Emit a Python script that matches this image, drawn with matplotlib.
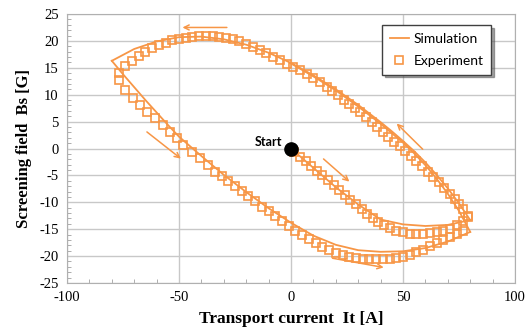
import matplotlib
matplotlib.use("Agg")
import matplotlib.pyplot as plt
from matplotlib.ticker import MultipleLocator

plt.rcParams['axes.unicode_minus'] = False

# --- simulation (lines) ---
sim_init_x = [0, 10, 20, 30, 40, 50, 60, 70, 80]
sim_init_y = [0, -3.6, -7.2, -10.4, -13.2, -14.1, -14.4, -14.2, -13.3]

sim_up1_x = [80, 75, 70, 65, 60, 55, 50, 45, 40, 30, 20, 10, 0, -10, -20, -30, -40, -50, -60, -70, -80]
sim_up1_y = [-13.3, -10.2, -7.4, -4.9, -2.6, -0.5, 1.4, 3.2, 4.9, 8.1, 11.0, 13.6, 15.9, 17.8, 19.3, 20.3, 20.8, 20.7, 19.9, 18.5, 16.3]

sim_low_x = [-80, -75, -70, -65, -60, -55, -50, -40, -30, -20, -10, 0, 10, 20, 30, 40, 50, 60, 70, 80]
sim_low_y = [16.3, 13.8, 11.4, 9.0, 6.7, 4.4, 2.2, -1.4, -4.9, -8.1, -11.1, -13.8, -16.2, -17.9, -18.9, -19.2, -19.1, -18.5, -17.3, -15.5]

sim_up2_x = [80, 75, 70, 65, 60, 55, 50, 40, 30, 20, 10, 0]
sim_up2_y = [-15.5, -11.6, -8.4, -5.6, -3.1, -0.9, 1.1, 4.6, 7.8, 10.8, 13.4, 15.8]

# --- experiment (squares) ---
exp_init_x = [1.5, 4, 6.5, 9, 11.5, 14, 16.5, 19, 21.5, 24, 26.5, 29, 31.5, 34, 36.5, 39, 41.5, 44,
              47, 50, 53, 56, 59, 62, 65, 68, 71, 74, 77, 79]
exp_init_y = [-0.6, -1.5, -2.4, -3.2, -4.1, -5.0, -5.9, -6.8, -7.7, -8.6, -9.5, -10.4, -11.3, -12.1, -12.9, -13.6, -14.2, -14.8,
              -15.3, -15.6, -15.8, -15.8, -15.8, -15.7, -15.6, -15.3, -14.9, -14.3, -13.5, -12.8]

exp_up_x = [79, 77, 75, 73, 71, 68.5, 66, 63.5, 61, 58.5, 56, 53.5, 51, 48.5, 46, 43.5, 41, 38.5, 36, 33.5,
            31, 28.5, 26, 23.5, 21, 18.5, 16, 13, 10, 7, 4, 1, -2, -5, -8, -11, -14, -17, -20,
            -23, -26, -29, -32, -35, -38, -41, -44, -47, -50, -53, -56, -59, -62, -65, -68, -71, -74, -77]
exp_up_y = [-12.5, -11.3, -10.3, -9.3, -8.4, -7.3, -6.3, -5.3, -4.3, -3.3, -2.4, -1.4, -0.5, 0.4, 1.3, 2.2, 3.1, 4.0, 4.9, 5.8,
            6.7, 7.5, 8.3, 9.1, 9.9, 10.7, 11.4, 12.3, 13.1, 13.9, 14.6, 15.2, 15.8, 16.5, 17.1, 17.7, 18.3, 18.9, 19.4,
            20.0, 20.3, 20.6, 20.8, 20.9, 20.9, 20.9, 20.8, 20.6, 20.4, 20.1, 19.7, 19.2, 18.6, 18.0, 17.2, 16.3, 15.3, 14.0]

exp_low_x = [-77, -74.2, -70.6, -67.5, -64.4, -60.9, -57.3, -54, -51, -48.2, -44.3, -40.7, -37, -34, -31, -28, -25,
             -22, -19, -16, -13, -10, -7, -4, -1, 2, 5, 8, 11, 14, 17, 20, 23, 26, 29, 32, 35, 38, 41,
             44, 47, 50, 53, 56, 59, 62, 65, 68, 71, 74, 77]
exp_low_y = [12.7, 10.9, 9.4, 8.1, 6.8, 5.6, 4.3, 3.0, 1.9, 0.6, -0.7, -1.8, -3.1, -4.3, -5.2, -6.0, -7.0,
             -7.9, -8.9, -9.8, -10.8, -11.7, -12.6, -13.5, -14.4, -15.3, -16.1, -16.9, -17.6, -18.3, -18.9, -19.4, -19.8, -20.2, -20.4, -20.5, -20.6, -20.6, -20.6,
             -20.5, -20.3, -20.1, -19.8, -19.3, -18.8, -18.2, -17.6, -17.0, -16.4, -15.9, -15.3]

# arrows: (x_from, y_from, x_to, y_to)
arrows = [(-27.4, 22.5, -49.7, 22.5),
          (-65.3, 3.4, -48.2, -2.2),
          (13.6, -1.6, 27.0, -6.5),
          (59.7, -0.5, 46.3, 5.0),
          (17.3, -20.3, 42.6, -22.2)]

orange = '#F79646'

fig = plt.figure(figsize=(5.29, 3.36), dpi=100)
ax = fig.add_axes([0.1267, 0.1577, 0.8468, 0.8006])

ax.plot(sim_init_x, sim_init_y, color=orange, lw=1.3, label='Simulation')
ax.plot(sim_up1_x, sim_up1_y, color=orange, lw=1.3)
ax.plot(sim_low_x, sim_low_y, color=orange, lw=1.3)
ax.plot(sim_up2_x, sim_up2_y, color=orange, lw=1.3)

sq = dict(ls='none', marker='s', ms=5.5, mfc='none', mec=orange, mew=1.2)
ax.plot(exp_init_x, exp_init_y, label='Experiment', **sq)
ax.plot(exp_up_x, exp_up_y, **sq)
ax.plot(exp_low_x, exp_low_y, **sq)

for x0, y0, x1, y1 in arrows:
    ax.annotate('', xy=(x1, y1), xytext=(x0, y0),
                arrowprops=dict(arrowstyle='->', color=orange, lw=1.1, mutation_scale=9))

ax.plot([0], [0], 'o', color='black', ms=9.5, zorder=5)
ax.text(-4, 1.3, 'Start', fontsize=9, fontweight='bold', family=['Lato', 'DejaVu Sans'],
        ha='right', va='center')

ax.set_xlim(-100, 100)
ax.set_ylim(-25, 25)
ax.xaxis.set_major_locator(MultipleLocator(50))
ax.xaxis.set_minor_locator(MultipleLocator(10))
ax.yaxis.set_major_locator(MultipleLocator(5))
ax.yaxis.set_minor_locator(MultipleLocator(1))
ax.grid(True, which='major', color='#C8C8C8', lw=1.0)
ax.set_axisbelow(True)
ax.tick_params(which='major', length=0, pad=6, labelsize=10.5)
ax.tick_params(which='minor', direction='in', length=3, color='#A0A0A0')
for lab in ax.get_xticklabels() + ax.get_yticklabels():
    lab.set_family('Liberation Serif')
for s in ax.spines.values():
    s.set_color('#B0B0B0')

ax.set_xlabel('Transport current  It [A]', family='Liberation Serif', fontweight='bold', fontsize=12.5, labelpad=5)
ax.set_ylabel('Screening field  Bs [G]', family='Liberation Serif', fontweight='bold', fontsize=12, labelpad=5)

leg = ax.legend(loc='upper right', bbox_to_anchor=(0.962, 0.985), fancybox=False, shadow=True,
                edgecolor='#404040', labelspacing=0.75, handlelength=1.4, handletextpad=0.3,
                borderpad=0.55, prop={'family': ['Lato', 'DejaVu Sans'], 'size': 10})
leg.get_frame().set_linewidth(1.0)

fig.savefig('out.png', dpi=100)
